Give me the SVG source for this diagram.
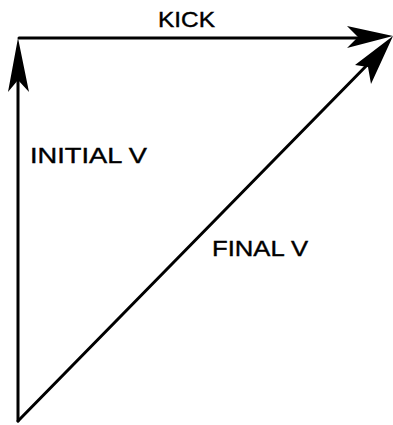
<svg xmlns="http://www.w3.org/2000/svg" width="393" height="425" viewBox="0 0 393 425">
<style>
.ln{stroke:#000;stroke-width:3;fill:none;stroke-linecap:round}
.hd{fill:#000;stroke:none}
.t{font-family:"Liberation Sans",Arial,sans-serif;font-size:22px;fill:#000;stroke:#000;stroke-width:0.4}
</style>
<rect width="393" height="425" fill="#fff"/>
<g id="connectors">
<line class="ln" x1="18" y1="421" x2="18" y2="60"/>
<polygon class="hd" points="18,38 29,92 18,80 8,92"/>
<line class="ln" x1="19" y1="38" x2="360" y2="38"/>
<polygon class="hd" points="393,36 347,26 358,37 347,48"/>
<line class="ln" x1="18" y1="421" x2="372" y2="60"/>
<polygon class="hd" points="393,36 355,65 368,67 371,84"/>
</g>
<g id="kick"><text class="t" x="158" y="27" textLength="57" lengthAdjust="spacingAndGlyphs">KICK</text></g>
<g id="initial"><text class="t" x="30" y="163" textLength="117" lengthAdjust="spacingAndGlyphs">INITIAL V</text></g>
<g id="final"><text class="t" x="212" y="256" textLength="96" lengthAdjust="spacingAndGlyphs">FINAL V</text></g>
</svg>
